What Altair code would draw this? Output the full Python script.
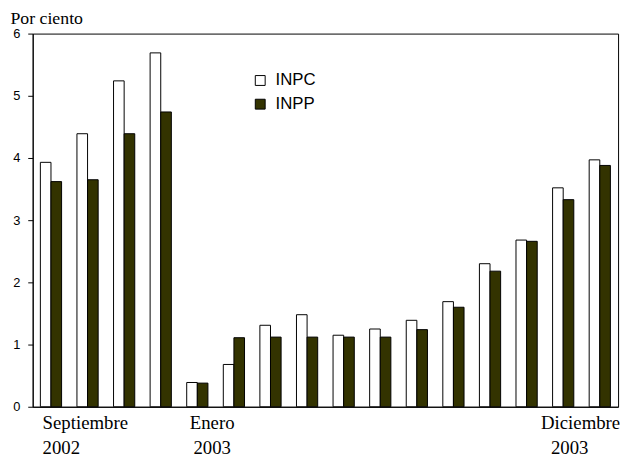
import altair as alt
import pandas as pd

months = ["2002-09", "2002-10", "2002-11", "2002-12",
          "2003-01", "2003-02", "2003-03", "2003-04", "2003-05", "2003-06",
          "2003-07", "2003-08", "2003-09", "2003-10", "2003-11", "2003-12"]
inpc = [3.93, 4.39, 5.24, 5.69, 0.39, 0.68, 1.31, 1.48, 1.15, 1.25, 1.39, 1.69, 2.30, 2.68, 3.52, 3.97]
inpp = [3.62, 3.65, 4.39, 4.74, 0.38, 1.11, 1.12, 1.12, 1.12, 1.12, 1.24, 1.60, 2.18, 2.66, 3.33, 3.88]
series = ["INPC", "INPP"]
colors = ["#ffffff", "#333300"]

rows = []
for m, a, b in zip(months, inpc, inpp):
    rows.append({"mes": m, "serie": "INPC", "valor": a})
    rows.append({"mes": m, "serie": "INPP", "valor": b})
df = pd.DataFrame(rows)

label_months = ["2002-09", "2003-01", "2003-12", "2003-12"]
label_texts = ["Septiembre\n2002", "Enero\n2003", "Diciembre", "\n2003"]
labels = pd.DataFrame({"mes": label_months, "texto": label_texts})

W, H = 593, 378
serif = "Liberation Serif"
sans = "Liberation Sans"

xenc = alt.X("mes:N", sort=months,
             scale=alt.Scale(paddingInner=0.42, paddingOuter=0.21),
             axis=alt.Axis(labels=False, ticks=False, title=None,
                           domainColor="black", domainWidth=1))

bars = alt.Chart(df).mark_bar(stroke="black", strokeWidth=1).encode(
    x=xenc,
    xOffset=alt.XOffset("serie:N", sort=series,
                        scale=alt.Scale(paddingInner=0, paddingOuter=0)),
    y=alt.Y("valor:Q", scale=alt.Scale(domain=[0, 6], nice=False),
            axis=alt.Axis(values=[0, 1, 2, 3, 4, 5, 6], grid=False, format="d",
                          tickSize=5, tickColor="black", domainColor="black",
                          labelFont=sans, labelFontSize=13, labelColor="black",
                          labelPadding=8,
                          title="Por ciento", titleAngle=0, titleAlign="left",
                          titleBaseline="alphabetic", titleX=-23, titleY=-10,
                          titleFont=serif, titleFontSize=18,
                          titleFontWeight="normal", titleColor="black")),
    fill=alt.Fill("serie:N", sort=series,
                  scale=alt.Scale(domain=series, range=colors),
                  legend=alt.Legend(title=None, orient="none", legendX=222,
                                    legendY=39, symbolType="square",
                                    symbolSize=100, symbolStrokeColor="black",
                                    symbolStrokeWidth=1, labelFont=sans,
                                    labelFontSize=17, labelColor="black",
                                    labelOffset=7, rowPadding=6, padding=0)),
)

def lab(i, align, dx):
    d = labels.iloc[[i]]
    return alt.Chart(d).mark_text(align=align, baseline="alphabetic", dx=dx,
                                  font=serif, fontSize=19, color="black",
                                  lineBreak="\n", lineHeight=25).encode(
        x=alt.X("mes:N", sort=months),
        y=alt.value(H + 23),
        text="texto:N",
    )

texts = [lab(0, "left", -8.5), lab(1, "center", 15), lab(2, "left", -59.5),
         lab(3, "left", -49.5)]

chart = alt.layer(bars, *texts).properties(
    width=W, height=H,
    autosize=alt.AutoSizeParams(type="none"),
    padding={"left": 25, "top": 23, "right": 6, "bottom": 50},
).configure_view(stroke="black", strokeWidth=1)

chart.save("out.html", embed_options={"renderer": "svg", "actions": False})
